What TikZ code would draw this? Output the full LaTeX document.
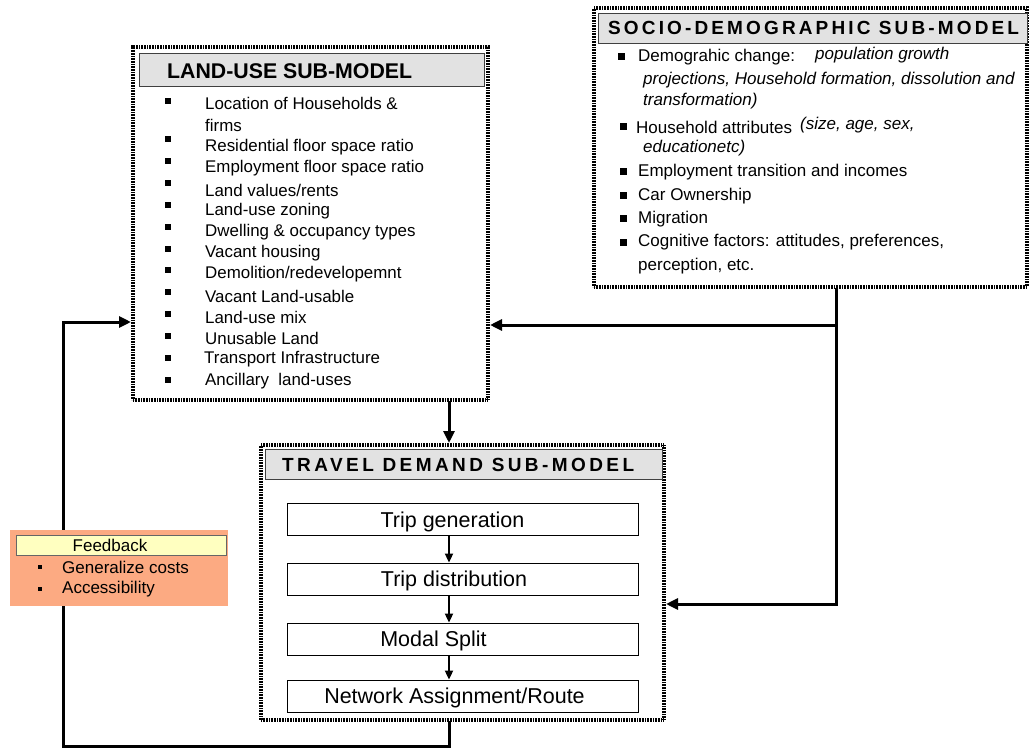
\documentclass[tikz,border=0pt]{standalone}
\usepackage{fontspec}
\setmainfont{Liberation Sans}
\newfontfamily\spacedfont[LetterSpace=18]{Liberation Sans}
\newfontfamily\spacedfontb[LetterSpace=16.5]{Liberation Sans}
\usetikzlibrary{arrows.meta}
\definecolor{titlegray}{RGB}{226,226,226}
\definecolor{salmon}{RGB}{252,170,130}
\definecolor{paleyellow}{RGB}{255,255,192}
\tikzset{
  x=1pt, y=-1pt,
  outerbox/.style={draw=black, line width=4pt, dash pattern=on 1pt off 0.6pt, fill=white, inner sep=0pt},
  titlebox/.style={draw=black!75, line width=0.8pt, fill=titlegray, inner sep=0pt},
  stepbox/.style={draw=black, line width=0.8pt, fill=white, minimum width=351pt, minimum height=32pt, inner sep=0pt},
  steptxt/.style={inner sep=0pt, font=\fontsize{21.5}{24}\selectfont},
  conn/.style={line width=3pt, line cap=rect},
  tip/.style={-{Triangle[length=12pt,width=11pt]}},
  smalltip/.style={line width=1.8pt, -{Triangle[length=9pt,width=8pt]}},
  txt/.style={anchor=west, inner sep=0pt},
  lutxt/.style={txt, font=\fontsize{16.9}{19}\selectfont},
  sdtxt/.style={txt, font=\fontsize{17}{20}\selectfont},
  sdit/.style={txt, font=\fontsize{17}{20}\selectfont\itshape},
  sq/.style={fill=black, inner sep=0pt, minimum size=6pt},
}
\begin{document}
\begin{tikzpicture}
\useasboundingbox (0,0) rectangle (1029,749);

% ---------- outer boxes ----------
\node[outerbox, minimum width=355pt, minimum height=353pt] (lu) at (310.5,223.5) {};
\node[outerbox, minimum width=433pt, minimum height=279pt] (sd) at (810.5,147.5) {};
\node[outerbox, minimum width=403pt, minimum height=275pt] (td) at (462.5,582.5) {};

% ---------- title boxes ----------
\node[titlebox, minimum width=345pt, minimum height=33pt] (lutitle) at (311.5,70) {};
\node[txt, font=\fontsize{21.3}{24}\selectfont\bfseries] (lutitletext) at (167,71) {LAND-USE SUB-MODEL};

\node[titlebox, minimum width=429pt, minimum height=30pt] (sdtitle) at (812.5,28) {};
\node[txt, font=\fontsize{19}{22}\selectfont\spacedfontb\bfseries] (sdtitletext) at (608,28) {SOCIO-DEMOGRAPHIC SUB-MODEL};

\node[titlebox, minimum width=397pt, minimum height=30pt] (tdtitle) at (463.5,464) {};
\node[txt, font=\fontsize{19}{22}\selectfont\spacedfont\bfseries] (tdtitletext) at (282,465) {TRAVEL DEMAND SUB-MODEL};

% ---------- land-use items ----------
\node[lutxt] (l1) at (205,103) {Location of Households \&};
\node[lutxt] (l1b) at (205,125) {firms};
\node[lutxt] (l2) at (205,147) {Residential floor space ratio};
\node[lutxt] (l3) at (205,168) {Employment floor space ratio};
\node[lutxt] (l4) at (205,190) {Land values/rents};
\node[lutxt] (l5) at (205,211) {Land-use zoning};
\node[lutxt] (l6) at (205,232) {Dwelling \& occupancy types};
\node[lutxt] (l7) at (205,253) {Vacant housing};
\node[lutxt] (l8) at (205,274) {Demolition/redevelopemnt};
\node[lutxt] (l9) at (205,296) {Vacant Land-usable};
\node[lutxt] (l10) at (205,317) {Land-use mix};
\node[lutxt] (l11) at (205,338) {Unusable Land};
\node[lutxt] (l12) at (204,359) {Transport Infrastructure};
\node[lutxt] (l13) at (205,381) {Ancillary\ \ land-uses};
\node[sq] (lb1) at (168,101) {};
\foreach \k in {0,...,11}{
  \node[sq] (lb\k x) at (168,{139+21.9*\k}) {};
}

% ---------- socio-demographic items ----------
\node[sq, minimum size=7pt] (sb1) at (621,57) {};
\node[sdtxt] (s1) at (638,57) {Demograhic change:};
\node[sdit] (s1i) at (815,55) {population growth};
\node[sdit] (s1b) at (643,80) {projections, Household formation, dissolution and};
\node[sdit] (s1c) at (643,101) {transformation)};
\node[sq, minimum size=7pt] (sb2) at (623,127) {};
\node[sdtxt] (s2) at (636,127) {Household attributes};
\node[sdit] (s2i) at (800,125) {(size, age, sex,};
\node[sdit] (s2b) at (643,148) {educationetc)};
\node[sq, minimum size=7pt] (sb3) at (623,172) {};
\node[sdtxt] (s3) at (638,172) {Employment transition and incomes};
\node[sq, minimum size=7pt] (sb4) at (623,196) {};
\node[sdtxt] (s4) at (638,196) {Car Ownership};
\node[sq, minimum size=7pt] (sb5) at (623,219) {};
\node[sdtxt] (s5) at (638,219) {Migration};
\node[sq, minimum size=7pt] (sb6) at (623,242) {};
\node[sdtxt] (s6) at (638,242) {Cognitive factors: attitudes, preferences,};
\node[sdtxt] (s6b) at (638,266) {perception, etc.};

% ---------- travel demand steps ----------
\node[stepbox] (tg) at (462.5,519) {};
\node[stepbox] (tdist) at (462.5,579) {};
\node[stepbox] (ms) at (462.5,639) {};
\node[stepbox] (na) at (462.5,696) {};
\node[steptxt] (tgt) at (452.5,522) {Trip generation};
\node[steptxt] (tdistt) at (454,581) {Trip distribution};
\node[steptxt] (mst) at (433.5,641) {Modal Split};
\node[steptxt] (nat) at (454.5,698) {Network Assignment/Route};
\coordinate (ax) at (449,0);
\draw[smalltip] (tg.south -| ax) -- (tdist.north -| ax);
\draw[smalltip] (tdist.south -| ax) -- (ms.north -| ax);
\draw[smalltip] (ms.south -| ax) -- (na.north -| ax);

% ---------- connectors ----------
\coordinate (sdx) at (836,0);
\coordinate (r604) at (0,604);
\coordinate (r325) at (0,325);
\coordinate (r322) at (0,322);
\coordinate (bl) at (63,746);
\coordinate (br) at (449,746);
\draw[conn, tip] (lu.south -| ax) -- (td.north -| ax);
\draw[conn, tip] (sd.south -| sdx) |- (td.east |- r604);
\draw[conn, tip] (sdx |- r325) -- (lu.east |- r325);
\draw[conn, tip] (td.south -| ax) -- (br) -- (bl) |- (lu.west |- r322);

% ---------- feedback ----------
\node[fill=salmon, minimum width=218pt, minimum height=76pt, inner sep=0pt] (fb) at (119,568) {};
\node[draw=black!60, line width=0.6pt, fill=paleyellow, minimum width=210pt, minimum height=20pt, inner sep=0pt] (fbt) at (121,545) {};
\node[font=\fontsize{17}{20}\selectfont, inner sep=0pt] (fbtext) at (110,545) {Feedback};
\node[sq, minimum size=4pt] (fb1) at (40,567) {};
\node[sq, minimum size=4pt] (fb2) at (40,589) {};
\node[sdtxt] (f1) at (62,567) {Generalize costs};
\node[sdtxt] (f2) at (62,589) {Accessibility};
\end{tikzpicture}
\end{document}
